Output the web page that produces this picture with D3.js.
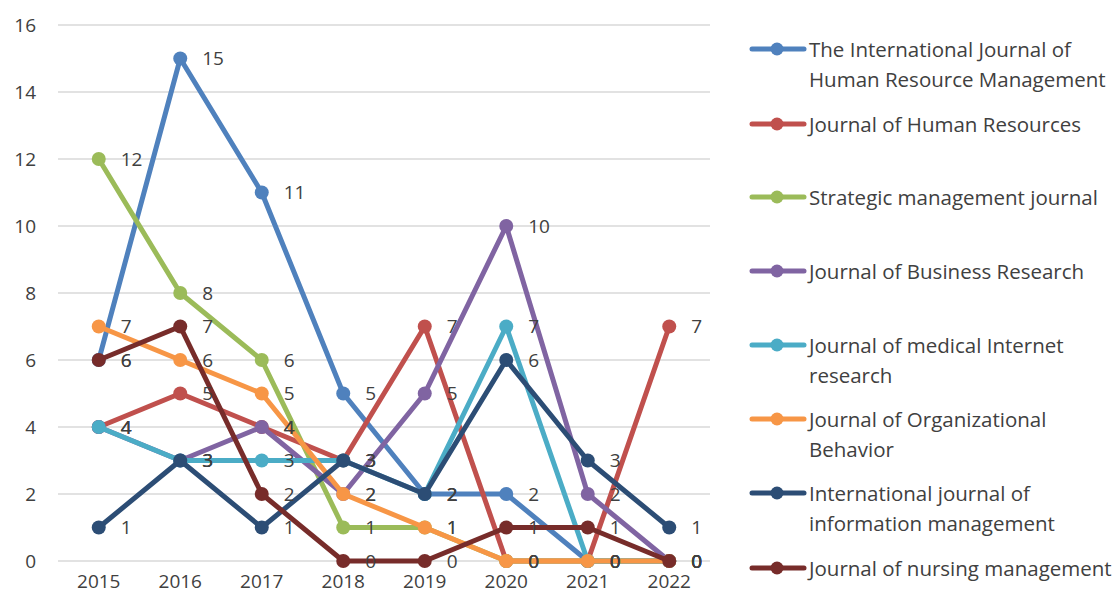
<!DOCTYPE html>
<html lang="en">
<head>
  <meta charset="UTF-8">
  <title>Journal publications 2015-2022</title>
  <script src="https://d3js.org/d3.v7.min.js"></script>
  <style>
    body { margin: 0; background: #fff; }
    svg text { font-family: "Open Sans", "Noto Sans", sans-serif; fill: #404040; }
  </style>
</head>
<body>
  <div id="chart"></div>

  <script>
    // Data
    const years = ['2015', '2016', '2017', '2018', '2019', '2020', '2021', '2022'];
    const yTicks = [0, 2, 4, 6, 8, 10, 12, 14, 16];

    const journals = [
      'The International Journal of Human Resource Management',
      'Journal of Human Resources',
      'Strategic management journal',
      'Journal of Business Research',
      'Journal of medical Internet research',
      'Journal of Organizational Behavior',
      'International journal of information management',
      'Journal of nursing management'
    ];

    // legend text broken the same way as the reference
    const legendLines = [
      ['The International Journal of', 'Human Resource Management'],
      ['Journal of Human Resources'],
      ['Strategic management journal'],
      ['Journal of Business Research'],
      ['Journal of medical Internet', 'research'],
      ['Journal of Organizational', 'Behavior'],
      ['International journal of', 'information management'],
      ['Journal of nursing management']
    ];

    const ijhrm = [6, 15, 11, 5, 2, 2, 0, 0];
    const jhr = [4, 5, 4, 3, 7, 0, 0, 7];
    const smj = [12, 8, 6, 1, 1, 0, 0, 0];
    const jbr = [4, 3, 4, 2, 5, 10, 2, 0];
    const jmir = [4, 3, 3, 3, 2, 7, 0, 0];
    const job = [7, 6, 5, 2, 1, 0, 0, 0];
    const ijim = [1, 3, 1, 3, 2, 6, 3, 1];
    const jnm = [6, 7, 2, 0, 0, 1, 1, 0];

    const colors = ['#4F81BD', '#C0504D', '#9BBB59', '#8064A2', '#4BACC6', '#F79646', '#2C4D75', '#772C2A'];

    const series = [ijhrm, jhr, smj, jbr, jmir, job, ijim, jnm].map((values, i) => ({
      name: journals[i],
      lines: legendLines[i],
      color: colors[i],
      values: values
    }));

    // Dimensions
    const width = 1118;
    const height = 600;
    const margin = { top: 25, right: 408, bottom: 39, left: 58 };

    const svg = d3.select('#chart')
      .append('svg')
      .attr('width', width)
      .attr('height', height);

    // Scales
    const xScale = d3.scaleBand()
      .domain(years)
      .range([margin.left, width - margin.right]);

    const x = d => xScale(d) + xScale.bandwidth() / 2;

    const yScale = d3.scaleLinear()
      .domain([0, 16])
      .range([height - margin.bottom, margin.top]);

    // Gridlines
    svg.append('g')
      .selectAll('line')
      .data(yTicks)
      .enter()
      .append('line')
      .attr('x1', margin.left)
      .attr('x2', width - margin.right)
      .attr('y1', d => yScale(d))
      .attr('y2', d => yScale(d))
      .attr('stroke', '#D9D9D9')
      .attr('stroke-width', 1.5);

    // Y axis
    const yAxis = svg.append('g')
      .attr('transform', `translate(${margin.left - 22}, 0)`)
      .call(d3.axisLeft(yScale).tickValues(yTicks).tickSize(0).tickPadding(0));
    yAxis.select('.domain').remove();
    yAxis.selectAll('text').style('font-size', '19px');

    // X axis
    const xAxis = svg.append('g')
      .attr('transform', `translate(0, ${height - margin.bottom + 10})`)
      .call(d3.axisBottom(xScale).tickSize(0).tickPadding(0));
    xAxis.select('.domain').remove();
    xAxis.selectAll('text').style('font-size', '19px').attr('dy', '0.9em');

    // Lines
    const line = d3.line()
      .x((d, i) => x(years[i]))
      .y(d => yScale(d));

    const seriesG = svg.append('g')
      .selectAll('g')
      .data(series)
      .enter()
      .append('g');

    seriesG.append('path')
      .attr('d', d => line(d.values))
      .attr('fill', 'none')
      .attr('stroke', d => d.color)
      .attr('stroke-width', 5)
      .attr('stroke-linejoin', 'round')
      .attr('stroke-linecap', 'round');

    seriesG.selectAll('circle')
      .data(d => d.values.map((v, i) => ({ v, i, color: d.color })))
      .enter()
      .append('circle')
      .attr('cx', d => x(years[d.i]))
      .attr('cy', d => yScale(d.v))
      .attr('r', 7)
      .attr('fill', d => d.color);

    // Data labels on top of everything
    const labelG = svg.append('g');
    series.forEach(s => {
      labelG.selectAll(null)
        .data(s.values.map((v, i) => ({ v, i })))
        .enter()
        .append('text')
        .attr('x', d => x(years[d.i]) + 22)
        .attr('y', d => yScale(d.v))
        .attr('dy', '0.36em')
        .style('font-size', '19px')
        .text(d => d.v);
    });

    // Legend
    const legendTops = [50, 125, 198, 272, 346, 420, 494, 569];
    const legend = svg.append('g')
      .selectAll('g')
      .data(series)
      .enter()
      .append('g')
      .attr('transform', (d, i) => `translate(750, ${legendTops[i]})`);

    legend.append('line')
      .attr('x1', 2)
      .attr('x2', 54)
      .attr('y1', -1)
      .attr('y2', -1)
      .attr('stroke', d => d.color)
      .attr('stroke-width', 5)
      .attr('stroke-linecap', 'round');

    legend.append('circle')
      .attr('cx', 27)
      .attr('cy', -1)
      .attr('r', 6.5)
      .attr('fill', d => d.color);

    legend.selectAll('text')
      .data(d => d.lines)
      .enter()
      .append('text')
      .attr('x', 59)
      .attr('y', (d, i) => i * 30)
      .attr('dy', '0.36em')
      .style('font-size', '20.5px')
      .text(d => d);
  </script>
</body>
</html>
